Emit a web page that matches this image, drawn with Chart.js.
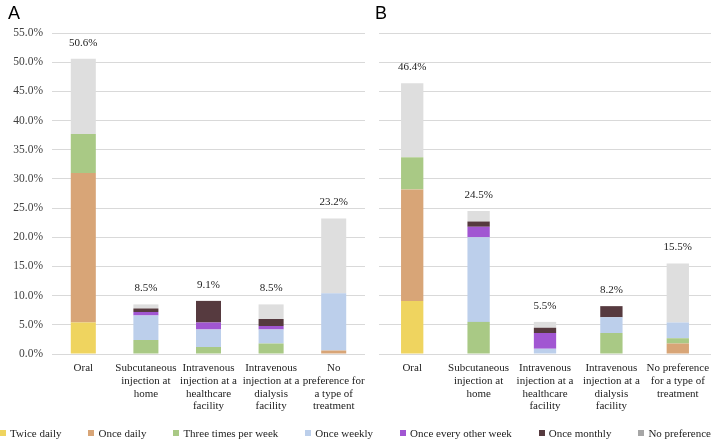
<!DOCTYPE html>
<html>
<head>
<meta charset="utf-8">
<script src="https://cdn.jsdelivr.net/npm/chart.js@4.4.0/dist/chart.umd.min.js"></script>
<style>
  body { margin: 0; background: #fff; }
  #wrap { position: relative; width: 711px; height: 441px; overflow: hidden; }
  canvas { position: absolute; top: 0; }
  .panel { position: absolute; top: 3px; font: 18px "Liberation Sans", Arial, sans-serif; color: #000; }
  #legend { position: absolute; left: 0; width: 711px; top: 427px; display: flex; justify-content: space-between;
            font: 11px "Liberation Serif", "Times New Roman", serif; color: #222; }
  #legend span.box { display: inline-block; width: 6px; height: 6px; margin-right: 4px; vertical-align: 1px; }
</style>
</head>
<body>
<div id="wrap">
  <canvas id="chartA" width="365" height="441" style="left:0"></canvas>
  <canvas id="chartB" width="345" height="441" style="left:366px"></canvas>
  <div class="panel" style="left:8px">A</div>
  <div class="panel" style="left:375px">B</div>
  <div id="legend"></div>
</div>
<script>
const seriesNames = ['Twice daily', 'Once daily', 'Three times per week', 'Once weekly',
  'Once every other week', 'Once monthly', 'No preference'];
const seriesColors = ['#efd45f', '#d8a577', '#a9c985', '#bccfeb', '#a156d2', '#563a3f', '#dedede'];
const legendColors = ['#efd45f', '#d8a577', '#a9c985', '#bccfeb', '#a156d2', '#563a3f', '#a6a6a6'];

const categoriesA = [['Oral'], ['Subcutaneous', 'injection at', 'home'],
  ['Intravenous', 'injection at a', 'healthcare', 'facility'],
  ['Intravenous', 'injection at a', 'dialysis', 'facility'],
  ['No', 'preference for', 'a type of', 'treatment']];
const categoriesB = [['Oral'], ['Subcutaneous', 'injection at', 'home'],
  ['Intravenous', 'injection at a', 'healthcare', 'facility'],
  ['Intravenous', 'injection at a', 'dialysis', 'facility'],
  ['No preference', 'for a type of', 'treatment']];

// panel A values (%)
const twiceDailyA   = [5.4, 0, 0, 0, 0];
const onceDailyA    = [25.6, 0, 0, 0, 0.6];
const threeWeeklyA  = [6.7, 2.4, 1.2, 1.8, 0];
const onceWeeklyA   = [0, 4.2, 3.0, 2.4, 9.8];
const otherWeekA    = [0, 0.6, 1.2, 0.6, 0];
const onceMonthlyA  = [0, 0.6, 3.7, 1.2, 0];
const noPrefA       = [12.9, 0.7, 0, 2.5, 12.8];
const totalsA       = ['50.6%', '8.5%', '9.1%', '8.5%', '23.2%'];

// panel B values (%)
const twiceDailyB   = [9.1, 0, 0, 0, 0];
const onceDailyB    = [19.1, 0, 0, 0, 1.8];
const threeWeeklyB  = [5.5, 5.5, 0, 3.6, 0.9];
const onceWeeklyB   = [0, 14.5, 0.9, 2.7, 2.7];
const otherWeekB    = [0, 1.8, 2.7, 0, 0];
const onceMonthlyB  = [0, 0.9, 0.9, 1.9, 0];
const noPrefB       = [12.7, 1.8, 1.0, 0, 10.1];
const totalsB       = ['46.4%', '24.5%', '5.5%', '8.2%', '15.5%'];

const yTicks = [0, 5, 10, 15, 20, 25, 30, 35, 40, 45, 50, 55];

const serif = '"Liberation Serif", "Times New Roman", serif';

const totalsPlugin = {
  id: 'totals',
  afterDatasetsDraw(chart, args, opts) {
    const c = chart.ctx;
    const xs = chart.scales.x, ys = chart.scales.y;
    c.save();
    c.font = '11px ' + serif;
    c.fillStyle = '#222';
    c.textAlign = 'center';
    c.textBaseline = 'middle';
    opts.labels.forEach((lbl, i) => {
      let sum = 0;
      chart.data.datasets.forEach(ds => { sum += ds.data[i]; });
      c.fillText(lbl, xs.getPixelForValue(i), ys.getPixelForValue(sum) - 16);
    });
    c.restore();
  }
};

function makeChart(id, cats, data, totals, barPct, yWidth, showY) {
  return new Chart(document.getElementById(id), {
    type: 'bar',
    data: {
      labels: cats,
      datasets: seriesNames.map((n, k) => ({
        label: n, data: data[k], backgroundColor: seriesColors[k], borderWidth: 0
      }))
    },
    options: {
      responsive: false,
      animation: false,
      layout: { padding: { top: 33, right: 0, left: 0, bottom: 0 } },
      plugins: { legend: { display: false }, tooltip: { enabled: false }, totals: { labels: totals } },
      datasets: { bar: { categoryPercentage: 1, barPercentage: barPct } },
      scales: {
        x: {
          stacked: true,
          grid: { display: false, drawTicks: false },
          border: { display: true, color: '#d9d9d9' },
          ticks: { padding: 8, color: '#222', maxRotation: 0, autoSkip: false,
                   font: { family: serif, size: 11, lineHeight: 1.15 } },
          afterFit: s => { s.height = 87; s.paddingLeft = 0; s.paddingRight = 0; }
        },
        y: {
          stacked: true, min: 0, max: 55,
          afterBuildTicks: s => { s.ticks = yTicks.map(v => ({ value: v })); },
          grid: { color: '#d9d9d9', drawTicks: false },
          border: { display: false },
          ticks: { display: showY, padding: 9, color: '#404040',
                   font: { family: serif, size: 11.5 },
                   callback: v => v.toFixed(1) + '%' },
          afterFit: s => { s.width = yWidth; }
        }
      }
    },
    plugins: [totalsPlugin]
  });
}

makeChart('chartA', categoriesA,
  [twiceDailyA, onceDailyA, threeWeeklyA, onceWeeklyA, otherWeekA, onceMonthlyA, noPrefA],
  totalsA, 0.4, 52, true);
makeChart('chartB', categoriesB,
  [twiceDailyB, onceDailyB, threeWeeklyB, onceWeeklyB, otherWeekB, onceMonthlyB, noPrefB],
  totalsB, 0.336, 13, false);

const legend = document.getElementById('legend');
seriesNames.forEach((n, k) => {
  const item = document.createElement('div');
  const box = document.createElement('span');
  box.className = 'box';
  box.style.background = legendColors[k];
  item.appendChild(box);
  item.appendChild(document.createTextNode(n));
  legend.appendChild(item);
});
</script>
</body>
</html>
